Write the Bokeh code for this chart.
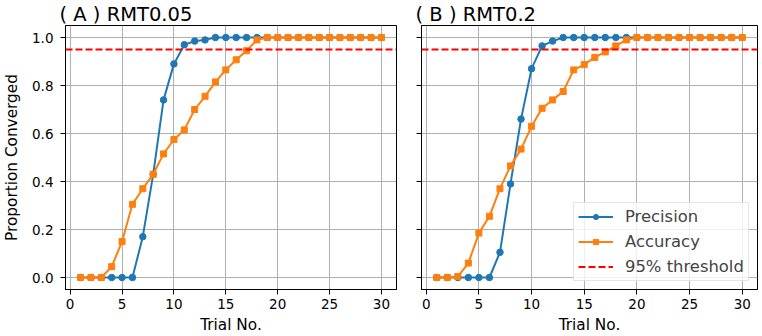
from bokeh.plotting import figure
from bokeh.layouts import row
from bokeh.models import FixedTicker, PrintfTickFormatter, CustomJSTickFormatter, Range1d
from bokeh.embed import file_html
from bokeh.resources import INLINE

# Convergence proportions per trial, for two RMT settings
trials = list(range(1, 31))

precision_a = [0.0, 0.0, 0.0, 0.0, 0.0, 0.0, 0.17, 0.43, 0.74, 0.89,
               0.97, 0.985, 0.99, 1.0, 1.0, 1.0, 1.0, 1.0, 1.0, 1.0,
               1.0, 1.0, 1.0, 1.0, 1.0, 1.0, 1.0, 1.0, 1.0, 1.0]
accuracy_a = [0.0, 0.0, 0.0, 0.045, 0.15, 0.305, 0.37, 0.43, 0.515, 0.575,
              0.615, 0.70, 0.755, 0.815, 0.865, 0.907, 0.945, 0.99, 1.0, 1.0,
              1.0, 1.0, 1.0, 1.0, 1.0, 1.0, 1.0, 1.0, 1.0, 1.0]

precision_b = [0.0, 0.0, 0.0, 0.0, 0.0, 0.0, 0.105, 0.39, 0.66, 0.87,
               0.965, 0.985, 1.0, 1.0, 1.0, 1.0, 1.0, 1.0, 1.0, 1.0,
               1.0, 1.0, 1.0, 1.0, 1.0, 1.0, 1.0, 1.0, 1.0, 1.0]
accuracy_b = [0.0, 0.0, 0.004, 0.06, 0.185, 0.255, 0.37, 0.465, 0.535, 0.63,
              0.705, 0.74, 0.775, 0.865, 0.887, 0.917, 0.94, 0.965, 0.99, 1.0,
              1.0, 1.0, 1.0, 1.0, 1.0, 1.0, 1.0, 1.0, 1.0, 1.0]

threshold = 0.95
x_ticks = [0, 5, 10, 15, 20, 25, 30]
y_ticks = [0.0, 0.2, 0.4, 0.6, 0.8, 1.0]

FONT = "DejaVu Sans"
TICK_SIZE = "13.5px"
LABEL_SIZE = "15.3px"
TITLE_SIZE = "19.5px"
LEGEND_SIZE = "16.4px"
BLUE = "#1f77b4"
ORANGE = "#ff7f0e"


def make_panel(title, precision, accuracy, left_side, with_legend):
    if left_side:
        width, b_left, b_right = 401, 59, 5
    else:
        width, b_left, b_right = 361, 20, 5
    p = figure(width=width, height=336, output_backend="svg", toolbar_location=None,
               min_border_left=b_left, min_border_right=b_right,
               min_border_top=25, min_border_bottom=47,
               x_range=Range1d(-0.45, 31.45), y_range=Range1d(-0.05, 1.05),
               title=title)

    p.title.text_font = FONT
    p.title.text_font_size = TITLE_SIZE
    p.title.text_font_style = "normal"
    p.title.text_color = "black"
    p.title.align = "left"
    p.title.offset = -6
    p.title.standoff = 0

    p.outline_line_color = "black"
    p.outline_line_width = 1
    p.outline_line_alpha = 1
    p.background_fill_color = "white"
    p.border_fill_color = "white"

    for g in (p.xgrid, p.ygrid):
        g.grid_line_color = "#b0b0b0"
        g.grid_line_width = 1
    p.xgrid.ticker = FixedTicker(ticks=x_ticks)
    p.ygrid.ticker = FixedTicker(ticks=y_ticks)

    xa = p.xaxis[0]
    ya = p.yaxis[0]
    xa.ticker = FixedTicker(ticks=x_ticks)
    ya.ticker = FixedTicker(ticks=y_ticks)
    ya.formatter = PrintfTickFormatter(format="%.1f")
    for ax in (xa, ya):
        ax.axis_line_color = "black"
        ax.major_tick_line_color = "black"
        ax.major_tick_out = 5
        ax.major_tick_in = 0
        ax.minor_tick_line_color = None
        ax.major_label_text_font = FONT
        ax.major_label_text_font_size = TICK_SIZE
        ax.major_label_text_color = "black"
        ax.axis_label_text_font = FONT
        ax.axis_label_text_font_size = LABEL_SIZE
        ax.axis_label_text_font_style = "normal"
        ax.axis_label_text_color = "black"
    xa.axis_label = "Trial No."
    xa.major_label_standoff = 4
    xa.axis_label_standoff = 4
    if left_side:
        ya.axis_label = "Proportion Converged"
        ya.major_label_standoff = 7
        ya.axis_label_standoff = 8
    else:
        ya.formatter = CustomJSTickFormatter(code="return ''")
        ya.major_label_standoff = 0

    p.line(trials, precision, color=BLUE, line_width=2, legend_label="Precision")
    p.scatter(trials, precision, marker="circle", size=6.5, color=BLUE,
              legend_label="Precision")
    p.line(trials, accuracy, color=ORANGE, line_width=2, legend_label="Accuracy")
    p.scatter(trials, accuracy, marker="square", size=6, color=ORANGE,
              legend_label="Accuracy")
    p.hspan(y=[threshold], line_color="red", line_width=2, line_dash="7 3",
            legend_label="95% threshold")

    lg = p.legend[0]
    if with_legend:
        lg.location = (152, 8)
        lg.margin = 0
        lg.padding = 4
        lg.spacing = 6
        lg.glyph_width = 35
        lg.glyph_height = 13
        lg.label_height = 19
        lg.label_standoff = 12
        lg.label_text_font = FONT
        lg.label_text_font_size = LEGEND_SIZE
        lg.border_line_color = "#cccccc"
        lg.border_line_width = 1
        lg.background_fill_color = "white"
        lg.background_fill_alpha = 0.8
    else:
        lg.visible = False
    return p


left = make_panel("( A ) RMT0.05", precision_a, accuracy_a, True, False)
right = make_panel("( B ) RMT0.2", precision_b, accuracy_b, False, True)

layout = row(left, right)
open("out.html", "w").write(file_html(layout, INLINE))
